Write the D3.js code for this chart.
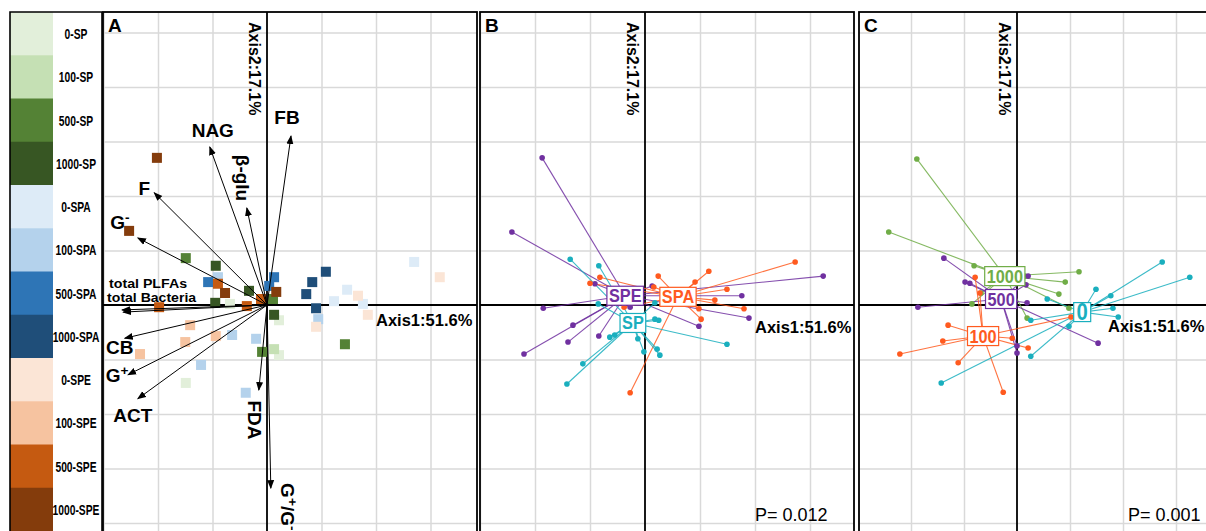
<!DOCTYPE html>
<html><head><meta charset="utf-8">
<script src="https://cdn.jsdelivr.net/npm/d3@7"></script>
<style>
body{margin:0;background:#fff}
svg{display:block}
text{font-family:"Liberation Sans",Arial,Helvetica,sans-serif}
</style>
</head><body>
<svg id="chart" width="1206" height="531"></svg>
<script>
// ---------------- DATA ----------------
const treatments = ["0-SP","100-SP","500-SP","1000-SP","0-SPA","100-SPA","500-SPA","1000-SPA","0-SPE","100-SPE","500-SPE","1000-SPE"];
const treatmentColors = ["#E2EFDA","#C5E0B4","#548235","#375623","#DDEBF7","#B4D2EC","#2E75B6","#1F4E79","#FBE5D6","#F6C3A0","#C55A11","#843C0C"];

// Panel A: sample scores [treatment, Axis1, Axis2]
const pointsA = [
 ["0-SP",-0.68,0.02],["0-SP",0.22,-0.28],["0-SP",-1.49,-1.43],["0-SP",0.22,-0.92],
 ["100-SP",0.13,-0.81],
 ["500-SP",-1.49,0.86],["500-SP",0.11,0.11],["500-SP",-0.09,-0.86],["500-SP",1.43,-0.72],
 ["1000-SP",-0.94,0.72],["1000-SP",-0.33,0.26],["1000-SP",-0.95,0.04],["1000-SP",0.13,-0.18],
 ["0-SPA",1.47,0.28],["0-SPA",1.23,0.07],["0-SPA",1.76,0.02],["0-SPA",2.70,0.79],
 ["100-SPA",-0.90,0.51],["100-SPA",-0.64,-0.55],["100-SPA",-0.20,-0.62],["100-SPA",-1.21,-1.10],["100-SPA",-0.39,-1.61],["100-SPA",0.94,-0.26],
 ["500-SPA",-1.08,0.42],["500-SPA",0.13,0.51],["500-SPA",0.04,0.35],
 ["1000-SPA",1.08,0.61],["1000-SPA",0.83,0.42],["1000-SPA",0.72,0.20],["1000-SPA",0.90,-0.06],
 ["0-SPE",1.67,0.17],["0-SPE",1.85,-0.18],["0-SPE",0.90,-0.40],["0-SPE",3.17,0.51],
 ["100-SPE",-1.41,-0.37],["100-SPE",-1.50,-0.68],["100-SPE",-0.94,-0.57],["100-SPE",-2.33,-0.90],
 ["500-SPE",-0.90,0.39],["500-SPE",-0.11,0.11],["500-SPE",-1.98,-0.04],["500-SPE",-0.37,-0.02],
 ["1000-SPE",-2.02,2.70],["1000-SPE",-2.53,1.36],["1000-SPE",-0.77,0.22],["1000-SPE",0.17,0.24]
];

// Panel A: environmental vectors
const vectorNames = ["NAG","β-glu","FB","F","G^-","total PLFAs","total Bacteria","CB","G^+","ACT","FDA","G^+/G^-"];
const vectorAxis1 = [-1.05,-0.37,0.44,-2.07,-2.37,-2.66,-2.64,-2.61,-2.55,-2.37,-0.15,0.07];
const vectorAxis2 = [2.90,1.78,3.10,2.06,1.23,-0.09,-0.13,-0.61,-1.28,-1.72,-1.56,-3.36];

// Panel B: grouped by system
const groupsB = ["SP","SPA","SPE"];
const colorsB = ["#1AAFBE","#FF5A1F","#7030A0"];
const pointsB = [
 ["SPE",-1.87,2.70],["SPE",-2.42,1.34],["SPE",-1.85,-0.06],["SPE",-1.31,-0.37],["SPE",-1.40,-0.68],
 ["SPE",-2.20,-0.90],["SPE",-0.84,-0.57],["SPE",-0.91,0.39],["SPE",0.13,0.35],["SPE",3.24,0.53],
 ["SPE",1.76,0.17],["SPE",1.89,-0.24],["SPE",0.98,-0.39],["SPE",-0.27,-0.04],
 ["SPA",2.73,0.79],["SPA",1.16,0.62],["SPA",0.91,0.42],["SPA",0.24,0.53],["SPA",1.49,0.29],
 ["SPA",1.27,0.09],["SPA",1.80,-0.07],["SPA",0.98,-0.07],["SPA",1.02,-0.26],["SPA",0.16,0.33],
 ["SPA",-0.82,0.51],["SPA",-1.00,0.40],["SPA",-0.27,-1.61],["SPA",-0.38,-0.04],
 ["SP",-1.36,0.84],["SP",-0.84,0.72],["SP",-0.85,0.02],["SP",-0.55,-0.55],["SP",-0.64,-0.59],
 ["SP",-1.13,-1.08],["SP",-1.42,-1.45],["SP",-0.13,-0.62],["SP",-0.02,-0.86],["SP",0.22,-0.81],
 ["SP",0.27,-0.92],["SP",0.18,-0.26],["SP",0.25,-0.28],["SP",1.49,-0.72],["SP",0.18,0.04]
];
const centroidsB = [["SP",-0.22,-0.33],["SPA",0.60,0.15],["SPE",-0.36,0.17]];
const pValueB = "P= 0.012";

// Panel C: grouped by level
const groupsC = ["0","100","500","1000"];
const colorsC = ["#1AAFBE","#FF5A1F","#7030A0","#70AD47"];
const pointsC = [
 ["1000",-1.89,2.68],["1000",-2.42,1.34],["1000",-0.81,0.72],["1000",1.17,0.61],["1000",0.91,0.42],
 ["1000",0.79,0.20],["1000",0.98,-0.06],["1000",0.19,-0.24],["1000",-0.68,0.22],["1000",-0.85,0.02],["1000",0.15,0.53],
 ["500",-1.38,0.86],["500",-0.98,0.42],["500",-0.89,0.40],["500",-1.87,-0.04],["500",0.21,0.53],
 ["500",0.17,0.37],["500",0.19,0.04],["500",1.53,-0.70],["500",0.00,-0.88],["500",0.00,-0.75],
 ["100",-0.79,0.51],["100",-1.30,-0.37],["100",-1.40,-0.66],["100",-2.21,-0.90],["100",-1.11,-1.06],
 ["100",-0.26,-1.60],["100",-0.09,-0.61],["100",0.21,-0.79],["100",1.02,-0.22],["100",-0.70,0.22],
 ["0",2.74,0.79],["0",3.26,0.51],["0",1.49,0.29],["0",1.77,0.17],["0",0.57,0.11],["0",1.81,-0.06],
 ["0",1.91,-0.22],["0",0.26,-0.28],["0",0.98,-0.39],["0",0.26,-0.94],["0",-1.43,-1.43]
];
const centroidsC = [["1000",-0.23,0.53],["500",-0.30,0.11],["100",-0.64,-0.57],["0",1.23,-0.13]];
const pValueC = "P= 0.001";

const axis1Title = "Axis1:51.6%";
const axis2Title = "Axis2:17.1%";

// ---------------- LAYOUT ----------------
const svg = d3.select("#chart");
const TOP = 12, BOTTOM = 548, OY = 305, KY = 54.5;
const panels = [
  {id:"A", left:103, right:477, ox:267, kx:54.5, a1x:376, a1dy:15},
  {id:"B", left:480, right:854, ox:645, kx:55,   a1x:755, a1dy:22, pX:755, p:pValueB},
  {id:"C", left:859, right:1216, ox:1017, kx:53, a1x:1108, a1dy:21, pX:1128, p:pValueC}
];
panels.forEach(p => {
  p.x = d3.scaleLinear().domain([(p.left-p.ox)/p.kx, (p.right-p.ox)/p.kx]).range([p.left, p.right]);
  p.y = d3.scaleLinear().domain([(OY-BOTTOM)/KY, (OY-TOP)/KY]).range([BOTTOM, TOP]);
});

// ---------------- LEGEND ----------------
const leg = svg.append("g");
const rowH = (531 - TOP) / treatments.length;
const legY = d3.scaleBand().domain(treatments).range([TOP, TOP + rowH*treatments.length]);
leg.selectAll("rect.sw").data(treatments).join("rect")
  .attr("x", 10).attr("y", d => legY(d)).attr("width", 43).attr("height", legY.bandwidth()+0.5)
  .attr("fill", (d,i) => treatmentColors[i]);
leg.selectAll("text").data(treatments).join("text")
  .attr("transform", d => `translate(76,${legY(d) + legY.bandwidth()/2 + 1}) scale(0.71,1)`)
  .attr("text-anchor","middle").attr("dominant-baseline","central")
  .attr("font-size", 14.5).attr("font-weight","bold").attr("fill","#000")
  .text(d => d);
leg.append("path").attr("d", `M10,540V${TOP}H102V540`).attr("fill","none").attr("stroke","#000").attr("stroke-width",1.6);

// ---------------- PANEL FRAMES / GRIDS ----------------
panels.forEach(p => {
  const g = svg.append("g").attr("id","panel"+p.id);
  p.g = g;
  const xt = d3.range(Math.ceil(p.x.domain()[0]), Math.floor(p.x.domain()[1])+1).filter(v => v !== 0);
  const yt = d3.range(Math.ceil(p.y.domain()[0]), Math.floor(p.y.domain()[1])+1).filter(v => v !== 0);
  const gx = g.append("g").attr("transform",`translate(0,${BOTTOM})`)
    .call(d3.axisBottom(p.x).tickValues(xt).tickSize(-(BOTTOM-TOP)).tickFormat(""));
  const gy = g.append("g").attr("transform",`translate(${p.left},0)`)
    .call(d3.axisLeft(p.y).tickValues(yt).tickSize(-(p.right-p.left)).tickFormat(""));
  [gx, gy].forEach(a => { a.select(".domain").remove(); a.selectAll("line").attr("stroke","#D9D9D9").attr("stroke-width",1.5); });
  g.append("line").attr("x1",p.x(0)).attr("x2",p.x(0)).attr("y1",TOP).attr("y2",BOTTOM).attr("stroke","#000").attr("stroke-width",1.8);
  g.append("line").attr("x1",p.left).attr("x2",p.right).attr("y1",p.y(0)).attr("y2",p.y(0)).attr("stroke","#000").attr("stroke-width",1.8);
  p.content = g.append("g");
  p.over = g.append("g");
  g.append("rect").attr("x",p.left).attr("y",TOP).attr("width",p.right-p.left).attr("height",BOTTOM-TOP)
    .attr("fill","none").attr("stroke","#000").attr("stroke-width",1.8);
  g.append("text").attr("x",p.left+5).attr("y",32).attr("font-size",19).attr("font-weight","bold").text(p.id);
  g.append("text").attr("transform",`translate(${p.x(0)-13},22) rotate(90)`)
    .attr("dominant-baseline","central").attr("font-size",16).attr("font-weight","bold").text(axis2Title)
    .each(function(){ const w=this.getComputedTextLength(); d3.select(this).attr("textLength", Math.min(w,96)).attr("lengthAdjust","spacingAndGlyphs"); });
  g.append("text").attr("x",p.a1x).attr("y",p.y(0)+p.a1dy).attr("dominant-baseline","central")
    .attr("font-size",16.5).attr("font-weight","bold").text(axis1Title);
  if (p.p) g.append("text").attr("x",p.pX).attr("y",521).attr("font-size",18).attr("font-weight",500).text(p.p);
});

// ---------------- PANEL A ----------------
(function(){
  const p = panels[0], x = p.x, y = p.y;
  const col = d3.scaleOrdinal(treatments, treatmentColors);
  const S = 10;
  p.content.selectAll("rect.pt").data(pointsA).join("rect")
    .attr("x", d => x(d[1]) - S/2).attr("y", d => y(d[2]) - S/2)
    .attr("width", S).attr("height", S).attr("fill", d => col(d[0]));
  svg.append("defs").append("marker").attr("id","arr").attr("viewBox","0 -4 9 8")
    .attr("refX",8).attr("refY",0).attr("markerWidth",9).attr("markerHeight",8)
    .attr("markerUnits","userSpaceOnUse").attr("orient","auto")
    .append("path").attr("d","M0,-3.5L9,0L0,3.5Z").attr("fill","#000");
  const vecs = vectorNames.map((n,i) => ({name:n, a1:vectorAxis1[i], a2:vectorAxis2[i]}));
  p.content.selectAll("line.vec").data(vecs).join("line")
    .attr("x1", x(0)).attr("y1", y(0)).attr("x2", d => x(d.a1)).attr("y2", d => y(d.a2))
    .attr("stroke","#000").attr("stroke-width",1).attr("marker-end","url(#arr)");
  // label layout (pixel offsets from arrow tip)
  const labelLayout = {
    "NAG":{dx:3,dy:-17}, "β-glu":{dx:-4,dy:-30,rot:90}, "FB":{dx:-4,dy:-19}, "F":{dx:-10,dy:-5},
    "G^-":{dx:-18,dy:-16}, "total PLFAs":{dx:-13,dy:-27,anchor:"start",size:13,len:78},
    "total Bacteria":{dx:-16,dy:-15,anchor:"start",size:13,len:89}, "CB":{dx:-5,dy:9},
    "G^+":{dx:-11,dy:0}, "ACT":{dx:-5,dy:16}, "FDA":{dx:-4,dy:30,rot:90},
    "G^+/G^-":{dx:17,dy:-5,rot:90,anchor:"start"}
  };
  vecs.forEach(d => {
    const L = labelLayout[d.name];
    const tx = x(d.a1) + L.dx, ty = y(d.a2) + L.dy;
    const t = p.over.append("text")
      .attr("transform", `translate(${tx},${ty})` + (L.rot ? ` rotate(${L.rot})` : ""))
      .attr("text-anchor", L.anchor || "middle").attr("dominant-baseline","central")
      .attr("font-size", L.size || 19).attr("font-weight","bold");
    const parts = d.name.split("^");
    t.append("tspan").text(parts[0]);
    parts.slice(1).forEach(s => {
      t.append("tspan").attr("dy",-5).attr("font-size","72%").text(s[0]);
      if (s.length > 1) t.append("tspan").attr("dy",5).text(s.slice(1));
    });
    if (L.len) t.attr("textLength", L.len).attr("lengthAdjust","spacingAndGlyphs");
  });
})();

// ---------------- SPIDER PANELS ----------------
function spider(p, pts, cents, groups, colors) {
  const x = p.x, y = p.y;
  const col = d3.scaleOrdinal(groups, colors);
  const cm = new Map(cents.map(c => [c[0], c]));
  p.content.selectAll("line.sp").data(pts).join("line")
    .attr("x1", d => x(cm.get(d[0])[1])).attr("y1", d => y(cm.get(d[0])[2]))
    .attr("x2", d => x(d[1])).attr("y2", d => y(d[2]))
    .attr("stroke", d => col(d[0])).attr("stroke-width",1.1).attr("stroke-opacity",0.85);
  p.content.selectAll("circle").data(pts).join("circle")
    .attr("cx", d => x(d[1])).attr("cy", d => y(d[2])).attr("r", 2.8).attr("fill", d => col(d[0]));
  cents.forEach(c => {
    const gg = p.content.append("g").attr("transform", `translate(${x(c[1])},${y(c[2])})`);
    const r = gg.append("rect");
    const big = c[0].length === 1;
    const t = gg.append("text").attr("text-anchor","middle").attr("y", big ? 8 : 6.5)
      .attr("font-size", big ? 23 : 18.5).attr("font-weight","bold").attr("fill", col(c[0])).text(c[0]);
    const w = t.node().getComputedTextLength() * 0.88;
    t.attr("textLength", w).attr("lengthAdjust","spacingAndGlyphs");
    const bw = Math.max(w + 4, 17);
    r.attr("x", -bw/2).attr("y", -9.5).attr("width", bw).attr("height", 19)
      .attr("fill","#fff").attr("stroke", col(c[0])).attr("stroke-width",1.2);
  });
}
spider(panels[1], pointsB, centroidsB, groupsB, colorsB);
spider(panels[2], pointsC, centroidsC, groupsC, colorsC);
</script>
</body></html>
